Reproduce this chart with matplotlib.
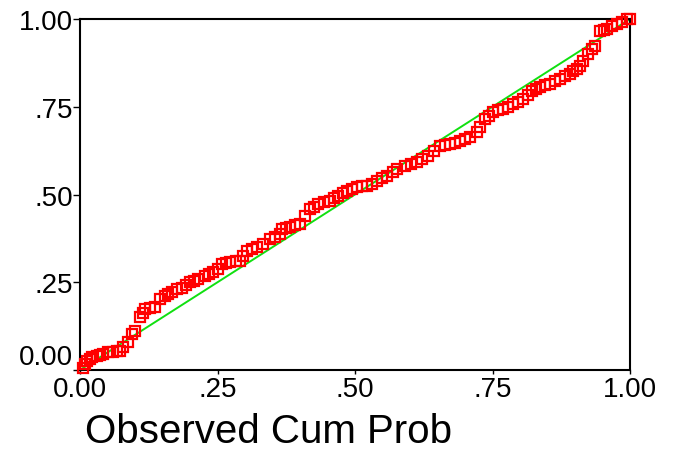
import matplotlib
matplotlib.use("Agg")
import matplotlib.pyplot as plt

plt.rcParams['font.family'] = ['Liberation Sans', 'DejaVu Sans']

# observed cumulative probability (x) vs expected cumulative probability (y)
observed = [0.005, 0.009, 0.013, 0.018, 0.022, 0.031, 0.036, 0.042, 0.051, 0.060,
            0.067, 0.073, 0.078, 0.087, 0.095, 0.100, 0.109, 0.115, 0.118, 0.127,
            0.136, 0.145, 0.155, 0.160, 0.167, 0.176, 0.185, 0.193, 0.200, 0.207,
            0.215, 0.227, 0.235, 0.242, 0.251, 0.258, 0.265, 0.273, 0.284, 0.291,
            0.296, 0.304, 0.313, 0.322, 0.333, 0.345, 0.355, 0.364, 0.367, 0.375,
            0.382, 0.391, 0.400, 0.409, 0.418, 0.425, 0.433, 0.444, 0.455, 0.462,
            0.469, 0.478, 0.485, 0.495, 0.504, 0.513, 0.522, 0.531, 0.540, 0.549,
            0.558, 0.569, 0.576, 0.591, 0.602, 0.613, 0.622, 0.633, 0.644, 0.655,
            0.664, 0.673, 0.682, 0.691, 0.700, 0.709, 0.722, 0.727, 0.736, 0.744,
            0.751, 0.760, 0.769, 0.778, 0.787, 0.796, 0.805, 0.815, 0.822, 0.829,
            0.836, 0.845, 0.855, 0.864, 0.873, 0.882, 0.891, 0.896, 0.904, 0.909,
            0.915, 0.924, 0.931, 0.936, 0.945, 0.953, 0.958, 0.967, 0.976, 0.985,
            0.995, 1.000]
expected = [0.006, 0.017, 0.026, 0.031, 0.037, 0.040, 0.043, 0.046, 0.051, 0.051,
            0.054, 0.054, 0.066, 0.080, 0.103, 0.111, 0.151, 0.162, 0.174, 0.177,
            0.179, 0.202, 0.211, 0.217, 0.222, 0.231, 0.234, 0.242, 0.251, 0.254,
            0.259, 0.268, 0.274, 0.279, 0.288, 0.302, 0.305, 0.308, 0.311, 0.311,
            0.325, 0.339, 0.345, 0.350, 0.359, 0.373, 0.379, 0.387, 0.402, 0.405,
            0.407, 0.413, 0.416, 0.439, 0.459, 0.464, 0.473, 0.479, 0.481, 0.490,
            0.496, 0.504, 0.510, 0.516, 0.521, 0.524, 0.524, 0.530, 0.538, 0.547,
            0.553, 0.564, 0.573, 0.581, 0.587, 0.593, 0.601, 0.610, 0.624, 0.638,
            0.641, 0.644, 0.647, 0.652, 0.658, 0.664, 0.678, 0.692, 0.715, 0.724,
            0.735, 0.741, 0.744, 0.749, 0.758, 0.764, 0.772, 0.783, 0.795, 0.801,
            0.806, 0.812, 0.815, 0.823, 0.829, 0.838, 0.843, 0.852, 0.858, 0.866,
            0.880, 0.900, 0.915, 0.923, 0.966, 0.969, 0.972, 0.980, 0.986, 0.991,
            1.000, 1.000]

ticks = [0, 0.25, 0.5, 0.75, 1.0]
tick_labels = ['0.00', '.25', '.50', '.75', '1.00']

fig = plt.figure(figsize=(6.76, 4.52), dpi=100)
ax = fig.add_axes([80 / 676, 81 / 452, 550 / 676, 351 / 452])

# reference diagonal
ax.plot([0, 1], [0, 1], color='#10e010', lw=1.4, zorder=2)
ax.plot(observed, expected, 's', ms=7, mfc='none', mec='#ff0000', mew=1.6,
        clip_on=False, zorder=3)

ax.set_xlim(0, 1)
ax.set_ylim(0, 1)
ax.set_xticks(ticks)
ax.set_xticklabels(tick_labels)
ax.set_yticks(ticks)
ax.set_yticklabels(tick_labels)
ax.tick_params(axis='both', labelsize=20, width=1, color='black')
ax.tick_params(axis='y', length=5, pad=0)
ax.tick_params(axis='x', length=3, pad=1)
ax.get_yticklabels()[0].set_va('bottom')

for s in ax.spines.values():
    s.set_linewidth(1.5)

ax.text(0.009, -0.175, 'Observed Cum Prob', transform=ax.transAxes,
        ha='left', va='center', fontsize=29)

fig.savefig('out.png', dpi=100)
